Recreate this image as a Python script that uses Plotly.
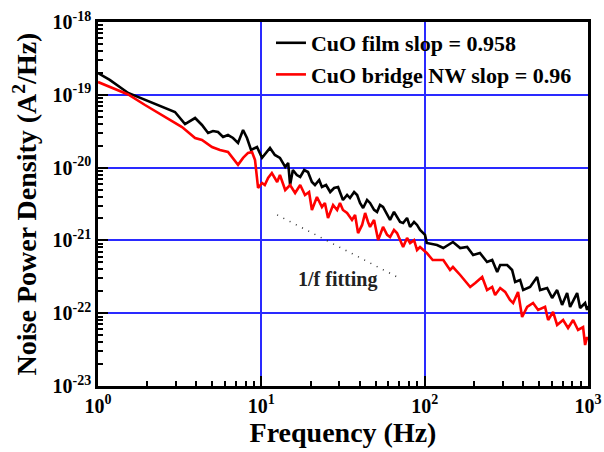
import plotly.graph_objects as go
import math

# ---- data ----
film_f = [1.0, 1.18, 1.53, 1.94, 2.47, 2.96, 3.41, 3.93, 4.33, 4.72, 5.06, 5.43, 5.83, 6.25, 6.71,
          7.20, 7.73, 8.17, 8.65, 9.41, 10.1, 10.7, 11.3, 12.1, 13.0, 14.0, 14.6, 15.0, 15.6, 16.5,
          17.3, 18.3, 19.3, 20.4, 21.3, 22.6, 23.5, 24.9, 26.4, 27.9, 29.5, 31.6, 33.5, 34.9, 37.0,
          38.6, 40.2, 42.0, 44.4, 46.3, 49.0, 51.1, 53.3, 55.6, 58.9, 61.4, 64.9, 67.7, 70.7, 73.8,
          78.0, 81.4, 86.1, 89.8, 93.7, 100.5, 103, 119, 130, 149, 165, 182, 198, 218, 241,
          259, 278, 290, 320, 343, 358, 384, 401, 442, 488, 509, 562, 603, 647, 694,
          745, 777, 858, 895, 960, 987, 1000]
film_s = [1.99e-19, 1.60e-19, 1.06e-19, 8.49e-20, 6.80e-20, 5.80e-20, 3.97e-20, 4.80e-20, 3.85e-20, 2.99e-20,
          3.18e-20, 3.08e-20, 2.63e-20, 2.80e-20, 2.55e-20, 2.18e-20, 3.28e-20, 2.55e-20, 1.75e-20, 1.92e-20,
          1.36e-20, 1.59e-20, 1.86e-20, 1.49e-20, 1.36e-20, 1.02e-20, 1.16e-20, 5.77e-21, 9.27e-21, 7.91e-21,
          7.43e-21, 9.27e-21, 8.70e-21, 6.34e-21, 5.77e-21, 6.76e-21, 5.42e-21, 5.77e-21, 4.62e-21, 5.25e-21,
          5.42e-21, 3.59e-21, 4.21e-21, 3.82e-21, 4.62e-21, 4.21e-21, 3.27e-21, 2.79e-21, 3.59e-21, 3.27e-21,
          2.62e-21, 2.46e-21, 3.06e-21, 2.88e-21, 2.23e-21, 1.91e-21, 2.46e-21, 2.10e-21, 1.79e-21, 1.73e-21,
          2.03e-21, 1.53e-21, 1.79e-21, 1.63e-21, 1.39e-21, 1.19e-21, 9.21e-22, 8.65e-22, 7.86e-22, 9.51e-22,
          7.86e-22, 8.12e-22, 6.30e-22, 6.71e-22, 5.05e-22, 5.38e-22, 3.68e-22, 4.59e-22, 4.59e-22, 3.92e-22,
          2.69e-22, 2.86e-22, 2.08e-22, 2.29e-22, 3.14e-22, 2.08e-22, 2.22e-22, 1.62e-22, 2.08e-22, 1.30e-22,
          1.89e-22, 1.22e-22, 1.89e-22, 1.18e-22, 1.38e-22, 1.11e-22, 1.26e-22]

nw_f = [1.0, 1.18, 1.53, 1.94, 2.47, 3.27, 3.93, 4.33, 4.99, 5.58, 6.25, 6.71, 7.20, 7.73, 8.29,
        8.77, 9.15, 9.55, 10.1, 10.5, 11.0, 11.6, 12.5, 13.0, 14.0, 15.0, 16.1, 17.3, 18.5, 19.6,
        20.4, 21.9, 23.5, 24.5, 25.6, 27.5, 29.1, 30.3, 31.6, 33.5, 35.9, 37.5, 39.1, 41.4, 43.2,
        45.0, 46.3, 49.0, 51.9, 55.6, 58.9, 61.4, 64.9, 67.7, 70.7, 73.8, 78.0, 81.4, 86.1, 89.8,
        93.7, 103, 112, 130, 143, 149, 165, 190, 204, 225, 241, 259, 270, 290, 311,
        333, 348, 373, 395, 424, 461, 495, 546, 570, 611, 647, 704, 755, 811, 869,
        933, 960, 987, 1000]
nw_s = [1.50e-19, 1.28e-19, 1.01e-19, 7.24e-20, 5.28e-20, 3.61e-20, 2.55e-20, 2.39e-20, 1.92e-20, 1.75e-20,
        1.64e-20, 1.36e-20, 1.09e-20, 1.36e-20, 1.59e-20, 1.64e-20, 1.27e-20, 5.25e-21, 6.14e-21, 5.77e-21,
        7.20e-21, 8.43e-21, 6.34e-21, 7.91e-21, 4.92e-21, 5.77e-21, 4.48e-21, 5.77e-21, 4.21e-21, 4.62e-21,
        2.62e-21, 3.95e-21, 2.88e-21, 3.27e-21, 2.03e-21, 3.06e-21, 2.62e-21, 3.27e-21, 2.62e-21, 2.38e-21,
        1.91e-21, 2.23e-21, 1.26e-21, 1.63e-21, 2.38e-21, 1.79e-21, 1.53e-21, 1.91e-21, 1.01e-21, 1.53e-21,
        1.19e-21, 1.11e-21, 1.39e-21, 1.26e-21, 1.01e-21, 8.12e-22, 1.08e-21, 9.21e-22, 1.01e-21, 7.38e-22,
        8.12e-22, 6.71e-22, 5.38e-22, 5.38e-22, 3.92e-22, 4.31e-22, 3.35e-22, 2.29e-22, 2.60e-22, 3.14e-22,
        2.08e-22, 2.29e-22, 1.78e-22, 2.22e-22, 1.96e-22, 1.52e-22, 1.38e-22, 1.96e-22, 8.87e-23, 1.22e-22,
        1.38e-22, 1.11e-22, 1.22e-22, 8.07e-23, 1.04e-22, 6.89e-23, 8.07e-23, 6.26e-23, 8.07e-23, 5.88e-23,
        6.46e-23, 3.66e-23, 4.71e-23, 4.28e-23]

fit_f = [12.5, 70.7]
fit_s = [2.24e-21, 3.0e-22]

x_tickvals = [1, 10, 100, 1000]
x_ticktext = ["10<sup>0</sup>", "10<sup>1</sup>", "10<sup>2</sup>", "10<sup>3</sup>"]
y_tickvals = [1e-23, 1e-22, 1e-21, 1e-20, 1e-19, 1e-18]
y_ticktext = ["10<sup>-23</sup>", "10<sup>-22</sup>", "10<sup>-21</sup>",
              "10<sup>-20</sup>", "10<sup>-19</sup>", "10<sup>-18</sup>"]

film_label = "CuO film slop = 0.958"
nw_label = "CuO bridge NW slop = 0.96"
fit_label = "1/f fitting"

FONT = "Liberation Serif"

minor_x = [m * 10 ** d for d in range(0, 3) for m in range(2, 10)]
minor_y = [m * 10.0 ** d for d in range(-23, -18) for m in range(2, 10)]

fig = go.Figure()
fig.add_trace(go.Scatter(x=film_f, y=film_s, mode="lines", name=film_label,
                         line=dict(color="black", width=2.6)))
fig.add_trace(go.Scatter(x=nw_f, y=nw_s, mode="lines", name=nw_label,
                         line=dict(color="#ff0000", width=2.6)))
fig.add_trace(go.Scatter(x=fit_f, y=fit_s, mode="lines", showlegend=False,
                         line=dict(color="#333333", width=1.5, dash="1px,6px")))

fig.add_annotation(x=math.log10(29.1), y=math.log10(2.86e-22), text=fit_label, showarrow=False,
                   font=dict(family=FONT, size=20, color="#222222", weight="bold"))

axis_common = dict(
    type="log", showline=True, linecolor="black", linewidth=2.5, mirror=True,
    ticks="inside", ticklen=10, tickwidth=2, tickcolor="black",
    showgrid=True, gridcolor="#2a2aff", gridwidth=1.6, zeroline=False,
    tickfont=dict(family=FONT, size=20, color="black", weight="bold"),
    tickmode="array", automargin=False,
)

fig.update_xaxes(**axis_common, range=[0, 3], tickvals=x_tickvals, ticktext=x_ticktext,
                 minor=dict(tickmode="array", tickvals=minor_x, ticks="inside", ticklen=5,
                            tickwidth=1.5, tickcolor="black", showgrid=False),
                 title=dict(text="Frequency (Hz)", standoff=4,
                            font=dict(family=FONT, size=28, color="black", weight="bold")))
fig.update_yaxes(**axis_common, range=[-23, -18], tickvals=y_tickvals, ticktext=y_ticktext,
                 minor=dict(tickmode="array", tickvals=minor_y, ticks="inside", ticklen=5,
                            tickwidth=1.5, tickcolor="black", showgrid=False),
                 title=dict(text="Noise Power Density (A<sup>2</sup>/Hz)", standoff=8,
                            font=dict(family=FONT, size=28, color="black", weight="bold")))

fig.update_layout(
    width=604, height=452,
    margin=dict(l=98, r=16, t=22, b=66),
    paper_bgcolor="white", plot_bgcolor="white",
    showlegend=True,
    legend=dict(x=0.353, y=1.0, xanchor="left", yanchor="top", bgcolor="rgba(0,0,0,0)",
                font=dict(family=FONT, size=22, color="black", weight="bold"),
                tracegroupgap=0, itemwidth=30),
)

fig.write_html("out.html")
